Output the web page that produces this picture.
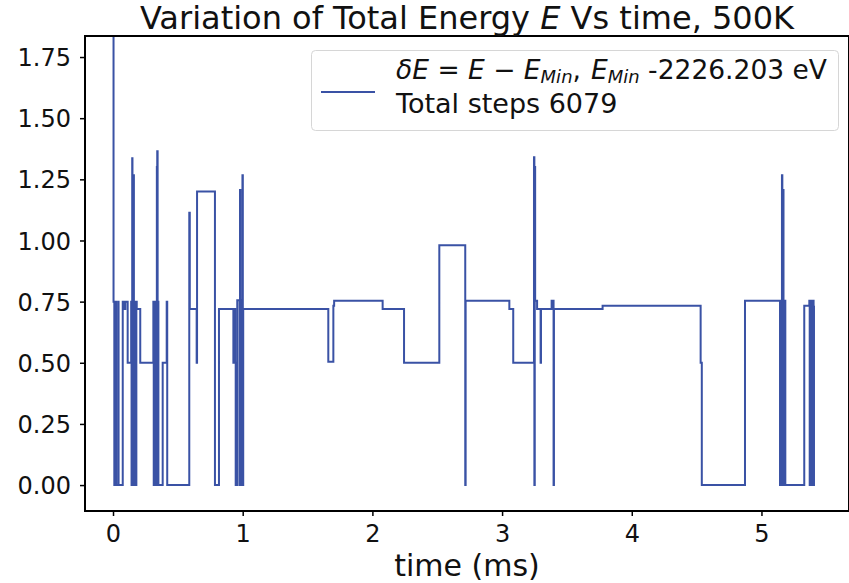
<!DOCTYPE html>
<html>
<head>
<meta charset="utf-8">
<script src="https://cdn.jsdelivr.net/npm/d3@7"></script>
<style>
  body { margin: 0; background: #fff; }
  svg { display: block; font-family: "DejaVu Sans", sans-serif; }
</style>
</head>
<body>
<div id="chart"></div>
<script>
// time (ms) at which each energy level starts
const times = [
  0.000, 0.004, 0.010, 0.014, 0.024, 0.040, 0.043, 0.075, 0.085, 0.095,
  0.113, 0.140, 0.143, 0.146, 0.148, 0.150, 0.153, 0.156, 0.158, 0.161,
  0.164, 0.167, 0.170, 0.173, 0.176, 0.180, 0.183, 0.210, 0.311, 0.314,
  0.317, 0.320, 0.324, 0.328, 0.331, 0.334, 0.338, 0.341, 0.344, 0.347,
  0.350, 0.383, 0.414, 0.418, 0.588, 0.592, 0.645, 0.648, 0.786, 0.817,
  0.928, 0.930, 0.932, 0.935, 0.937, 0.940, 0.942, 0.946, 0.958, 0.976,
  0.979, 0.982, 0.985, 0.995, 0.998, 1.001, 1.004, 1.660, 1.699, 1.705,
  2.079, 2.244, 2.516, 2.716, 2.719, 3.056, 3.086, 3.246, 3.249, 3.252,
  3.255, 3.270, 3.297, 3.300, 3.382, 3.397, 3.400, 3.775, 4.531, 4.540,
  4.873, 5.143, 5.146, 5.149, 5.152, 5.155, 5.158, 5.161, 5.164, 5.167,
  5.170, 5.173, 5.176, 5.180, 5.184, 5.330, 5.369, 5.372, 5.375, 5.378,
  5.381, 5.384, 5.387, 5.390, 5.393, 5.396, 5.399, 5.402, 5.405, 5.410
];

// dE = E - E_Min (eV)
const energies = [
  2.100, 0.750, 0.000, 0.750, 0.000, 0.750, 0.000, 0.750, 0.720, 0.750,
  0.500, 0.750, 0.000, 0.750, 1.336, 0.000, 0.750, 0.000, 1.267, 0.750,
  0.000, 0.750, 0.000, 0.750, 0.000, 0.750, 0.720, 0.500, 0.750, 0.000,
  0.750, 0.000, 0.750, 0.000, 0.750, 0.000, 1.300, 1.365, 0.000, 0.750,
  0.000, 0.500, 0.750, 0.000, 1.113, 0.720, 0.500, 1.200, 0.000, 0.720,
  0.500, 0.720, 0.500, 0.720, 0.500, 0.720, 0.500, 0.000, 0.756, 0.000,
  1.206, 0.000, 0.756, 0.000, 1.267, 0.000, 0.720, 0.504, 0.733, 0.754,
  0.720, 0.500, 0.981, 0.000, 0.754, 0.720, 0.500, 1.340, 0.000, 1.300,
  0.754, 0.720, 0.500, 0.720, 0.754, 0.000, 0.720, 0.733, 0.500, 0.000,
  0.754, 0.000, 0.754, 0.000, 0.754, 0.000, 1.267, 0.000, 0.754, 1.206,
  0.000, 0.754, 0.000, 0.754, 0.000, 0.733, 0.754, 0.000, 0.754, 0.000,
  0.754, 0.000, 0.754, 0.000, 0.754, 0.000, 0.754, 0.000, 0.733, 0.733
];

const xTicks = [0, 1, 2, 3, 4, 5];
const yTicks = [0, 0.25, 0.5, 0.75, 1.0, 1.25, 1.5, 1.75];

const titleText = "Variation of Total Energy";
const xLabel = "time (ms)";
const eMin = "-2226.203 eV";
const totalSteps = "Total steps 6079";

const lineColor = "#3a52a5";

const width = 849;
const height = 583;
const margin = { top: 36, right: 0, bottom: 72, left: 85 };
const innerW = width - margin.left - margin.right;
const innerH = height - margin.top - margin.bottom;

const data = times.map((t, i) => ({ t: t, v: energies[i] }));

const xScale = d3
  .scaleLinear()
  .domain([-0.216, 5.675])
  .range([0, innerW]);

const yScale = d3
  .scaleLinear()
  .domain([-0.106, 1.836])
  .range([innerH, 0]);

const svg = d3
  .select("#chart")
  .append("svg")
  .attr("width", width)
  .attr("height", height);

const g = svg
  .append("g")
  .attr("transform", "translate(" + margin.left + "," + margin.top + ")");

g.append("defs")
  .append("clipPath")
  .attr("id", "plotClip")
  .append("rect")
  .attr("width", innerW)
  .attr("height", innerH);

// energy trace

const line = d3
  .line()
  .x(d => xScale(d.t))
  .y(d => yScale(d.v))
  .curve(d3.curveStepAfter);

g.append("path")
  .datum(data)
  .attr("clip-path", "url(#plotClip)")
  .attr("fill", "none")
  .attr("stroke", lineColor)
  .attr("stroke-width", 2)
  .attr("stroke-linejoin", "miter")
  .attr("d", line);

// axes

const xAxis = g
  .append("g")
  .attr("transform", "translate(0," + innerH + ")")
  .call(
    d3
      .axisBottom(xScale)
      .tickValues(xTicks)
      .tickFormat(d3.format("d"))
      .tickSize(5)
      .tickPadding(6)
  );

const yAxis = g.append("g").call(
  d3
    .axisLeft(yScale)
    .tickValues(yTicks)
    .tickFormat(d3.format(".2f"))
    .tickSize(5)
    .tickPadding(9)
);

[xAxis, yAxis].forEach(a => {
  a.select(".domain").remove();
  a.selectAll(".tick line").attr("stroke", "#000").attr("stroke-width", 1.5);
  a.selectAll(".tick text")
    .attr("fill", "#111")
    .style("font-size", "24px")
    .style("font-family", "DejaVu Sans");
});
yAxis.selectAll(".tick text").attr("dy", "0.36em");
xAxis.selectAll(".tick text").attr("dy", "0.85em");

// spines

g.append("rect")
  .attr("width", innerW)
  .attr("height", innerH)
  .attr("fill", "none")
  .attr("stroke", "#000")
  .attr("stroke-width", 2);

// title and labels

const title = svg
  .append("text")
  .attr("x", 467)
  .attr("y", 29)
  .attr("text-anchor", "middle")
  .attr("fill", "#111")
  .style("font-size", "32px");
title.append("tspan").text(titleText + " ");
title.append("tspan").style("font-style", "italic").text("E");
title.append("tspan").text(" Vs time, 500K");

svg
  .append("text")
  .attr("x", margin.left + innerW / 2)
  .attr("y", 576)
  .attr("text-anchor", "middle")
  .attr("fill", "#111")
  .style("font-size", "30px")
  .text(xLabel);

// legend

const legend = svg.append("g");

legend
  .append("rect")
  .attr("x", 311.5)
  .attr("y", 50.5)
  .attr("width", 527)
  .attr("height", 80)
  .attr("rx", 4)
  .attr("fill", "#fff")
  .attr("fill-opacity", 0.8)
  .attr("stroke", "#d6d6d6")
  .attr("stroke-width", 1);

legend
  .append("line")
  .attr("x1", 321)
  .attr("x2", 375)
  .attr("y1", 92)
  .attr("y2", 92)
  .attr("stroke", lineColor)
  .attr("stroke-width", 2);

const l1 = legend
  .append("text")
  .attr("x", 396)
  .attr("y", 79)
  .attr("fill", "#111")
  .style("font-size", "26.5px");
l1.append("tspan").style("font-style", "italic").text("δE");
l1.append("tspan").text(" = ");
l1.append("tspan").style("font-style", "italic").text("E");
l1.append("tspan").text(" − ");
l1.append("tspan").style("font-style", "italic").text("E");
l1.append("tspan")
  .style("font-style", "italic")
  .style("font-size", "18px")
  .attr("dy", 4)
  .text("Min");
l1.append("tspan").attr("dy", -4).text(",");
l1.append("tspan").attr("dx", 10).style("font-style", "italic").text("E");
l1.append("tspan")
  .style("font-style", "italic")
  .style("font-size", "18px")
  .attr("dy", 4)
  .text("Min");
l1.append("tspan").attr("dy", -4).text(" " + eMin);

legend
  .append("text")
  .attr("x", 396)
  .attr("y", 113)
  .attr("fill", "#111")
  .style("font-size", "27px")
  .text(totalSteps);
</script>
</body>
</html>
